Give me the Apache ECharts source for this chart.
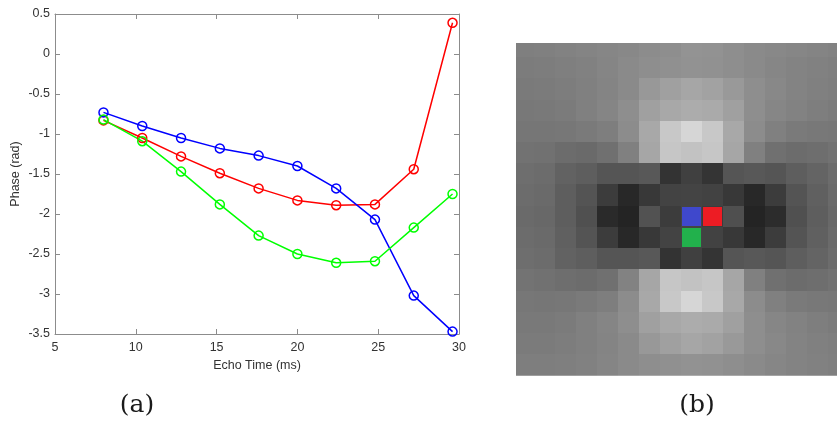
<!DOCTYPE html>
<html>
<head>
<meta charset="utf-8">
<script src="https://cdn.jsdelivr.net/npm/echarts@6/dist/echarts.min.js"></script>
<style>
  html, body { margin: 0; padding: 0; background: #ffffff; }
  #chart { width: 837px; height: 421px; }
</style>
</head>
<body>
<div id="chart"></div>
<script>
// (a) phase vs echo time for three voxels
const echoTimes  = [8.0, 10.4, 12.8, 15.2, 17.6, 20.0, 22.4, 24.8, 27.2, 29.6];
const phaseRed   = [-0.83, -1.05, -1.28, -1.49, -1.68, -1.83, -1.89, -1.88, -1.44, 0.39];
const phaseBlue  = [-0.73, -0.90, -1.05, -1.18, -1.27, -1.40, -1.68, -2.07, -3.02, -3.47];
const phaseGreen = [-0.82, -1.09, -1.47, -1.88, -2.27, -2.50, -2.61, -2.59, -2.17, -1.75];

const xTickMin = 5, xTickMax = 30, xTickStep = 5;
const yTickMin = -3.5, yTickMax = 0.5, yTickStep = 0.5;

// (b) magnitude patch, grey levels 0-255, one row per image line
const patchRows = [
  [127,128,130,132,134,136,140,142,147,146,142,138,136,134,132,130],
  [124,125,127,129,133,138,142,144,146,145,142,138,134,131,129,127],
  [122,123,125,128,132,138,152,160,166,162,153,142,136,131,128,126],
  [120,121,123,128,133,142,160,168,172,170,160,142,134,130,126,123],
  [118,118,119,122,126,140,168,200,214,200,168,140,128,122,120,119],
  [114,113,108,106,112,128,166,198,194,198,166,128,112,108,110,114],
  [110,108, 98, 94, 85, 85, 88, 51, 64, 52, 85, 88, 85, 94,100,108],
  [108,106, 94, 84, 60, 40, 56, 67, 68, 66, 56, 40, 60, 84, 96,106],
  [106,104, 94, 80, 42, 36, 82, 60, 68, 60, 79, 36, 44, 80, 94,104],
  [108,106, 96, 84, 60, 40, 56, 67, 68, 66, 56, 40, 60, 84, 96,106],
  [110,108, 98, 94, 85, 85, 88, 51, 64, 52, 85, 88, 85, 94,100,108],
  [115,113,110,108,112,130,166,198,194,198,166,128,112,108,110,114],
  [119,118,119,122,126,140,168,200,214,200,168,140,128,122,120,119],
  [121,121,123,128,133,142,160,168,172,170,160,142,134,130,126,123],
  [123,123,125,128,132,138,152,160,166,162,153,142,136,131,128,126],
  [126,126,127,129,133,138,142,144,146,145,142,138,134,131,129,127]
];

// selected voxels (blue, red, green)
const voxelCols = [8, 9, 8];
const voxelRows = [8, 8, 9];

const voxelColors = ['#3f48cc', '#ed1c24', '#22b14c'];
const axisGrey = '#8c8c8c';
const textGrey = '#333333';
const sansFont = 'Liberation Sans, Arial, Helvetica, sans-serif';

const patchCells = [];
patchRows.forEach((row, r) => row.forEach((v, c) => patchCells.push([c, r, v])));
const voxelCells = voxelCols.map((c, i) => [c, voxelRows[i]]);

function lineSeries(values, color) {
  return {
    type: 'line',
    xAxisIndex: 0,
    yAxisIndex: 0,
    data: echoTimes.map((t, i) => [t, values[i]]),
    symbol: 'circle',
    symbolSize: 9,
    lineStyle: { color: color, width: 1.5 },
    itemStyle: { color: 'rgba(0,0,0,0)', borderColor: color, borderWidth: 1.5 },
    emphasis: { disabled: true },
    silent: true
  };
}

// pixel-snapped cell rectangle so neighbouring cells meet without seams
function cellRect(api, scale) {
  const p = api.coord([api.value(0), api.value(1)]);
  const s = api.size([1, 1]);
  const w = s[0] * scale, h = s[1] * scale;
  const x0 = Math.round(p[0] - w / 2), x1 = Math.round(p[0] + w / 2);
  const y0 = Math.round(p[1] - h / 2), y1 = Math.round(p[1] + h / 2);
  return { x: x0, y: y0, width: x1 - x0, height: y1 - y0 };
}

const frameAxis = {
  axisLine: { show: true, onZero: false, lineStyle: { color: axisGrey, width: 1 } },
  axisTick: { show: true, inside: true, length: 5, lineStyle: { color: axisGrey } },
  splitLine: { show: false }
};

const chart = echarts.init(document.getElementById('chart'), null, { renderer: 'canvas' });
chart.setOption({
  animation: false,
  backgroundColor: '#ffffff',
  grid: [
    { left: 55, right: 378, top: 14, bottom: 87, containLabel: false, outerBoundsMode: 'none' },
    { left: 516, right: 0, top: 43, bottom: 45.3, containLabel: false, outerBoundsMode: 'none' }
  ],
  xAxis: [
    Object.assign({}, frameAxis, {
      gridIndex: 0, type: 'value', position: 'bottom',
      min: xTickMin, max: xTickMax, interval: xTickStep,
      name: 'Echo Time (ms)', nameLocation: 'middle', nameGap: 22,
      nameTextStyle: { color: textGrey, fontSize: 12.5, fontFamily: sansFont },
      axisLabel: { color: textGrey, fontSize: 12.5, fontFamily: sansFont, margin: 7 }
    }),
    Object.assign({}, frameAxis, {
      gridIndex: 0, type: 'value', position: 'top',
      min: xTickMin, max: xTickMax, interval: xTickStep,
      axisLabel: { show: false }
    }),
    { gridIndex: 1, type: 'value', min: -0.36, max: 14.93, show: false }
  ],
  yAxis: [
    Object.assign({}, frameAxis, {
      gridIndex: 0, type: 'value', position: 'left',
      min: yTickMin, max: yTickMax, interval: yTickStep,
      name: 'Phase (rad)', nameLocation: 'middle', nameGap: 33,
      nameTextStyle: { color: textGrey, fontSize: 12.5, fontFamily: sansFont },
      axisLabel: { color: textGrey, fontSize: 12.5, fontFamily: sansFont, margin: 5 }
    }),
    Object.assign({}, frameAxis, {
      gridIndex: 0, type: 'value', position: 'right',
      min: yTickMin, max: yTickMax, interval: yTickStep,
      axisLabel: { show: false }
    }),
    { gridIndex: 1, type: 'value', min: -0.16, max: 15.5, inverse: true, show: false }
  ],
  visualMap: {
    type: 'continuous',
    show: false,
    seriesIndex: 3,
    dimension: 2,
    min: 0,
    max: 255,
    inRange: { color: ['#000000', '#ffffff'] }
  },
  series: [
    lineSeries(phaseRed, '#ff0000'),
    lineSeries(phaseBlue, '#0000ff'),
    lineSeries(phaseGreen, '#00ff00'),
    {
      type: 'custom',
      xAxisIndex: 2,
      yAxisIndex: 2,
      clip: true,
      silent: true,
      data: patchCells,
      encode: { x: 0, y: 1 },
      renderItem: function (params, api) {
        return {
          type: 'rect',
          shape: cellRect(api, 1),
          style: { fill: api.visual('color'), stroke: null }
        };
      }
    },
    {
      type: 'custom',
      xAxisIndex: 2,
      yAxisIndex: 2,
      clip: true,
      silent: true,
      z: 5,
      data: voxelCells,
      encode: { x: 0, y: 1 },
      renderItem: function (params, api) {
        return {
          type: 'rect',
          shape: cellRect(api, 0.9),
          style: { fill: voxelColors[params.dataIndex], stroke: null }
        };
      }
    }
  ],
  graphic: [
    { type: 'text', x: 137, y: 405, style: { text: '(a)', fill: '#1a1a1a', font: '25px "DejaVu Serif", serif', textAlign: 'center', textVerticalAlign: 'middle' } },
    { type: 'text', x: 697, y: 405, style: { text: '(b)', fill: '#1a1a1a', font: '25px "DejaVu Serif", serif', textAlign: 'center', textVerticalAlign: 'middle' } }
  ]
});
</script>
</body>
</html>
